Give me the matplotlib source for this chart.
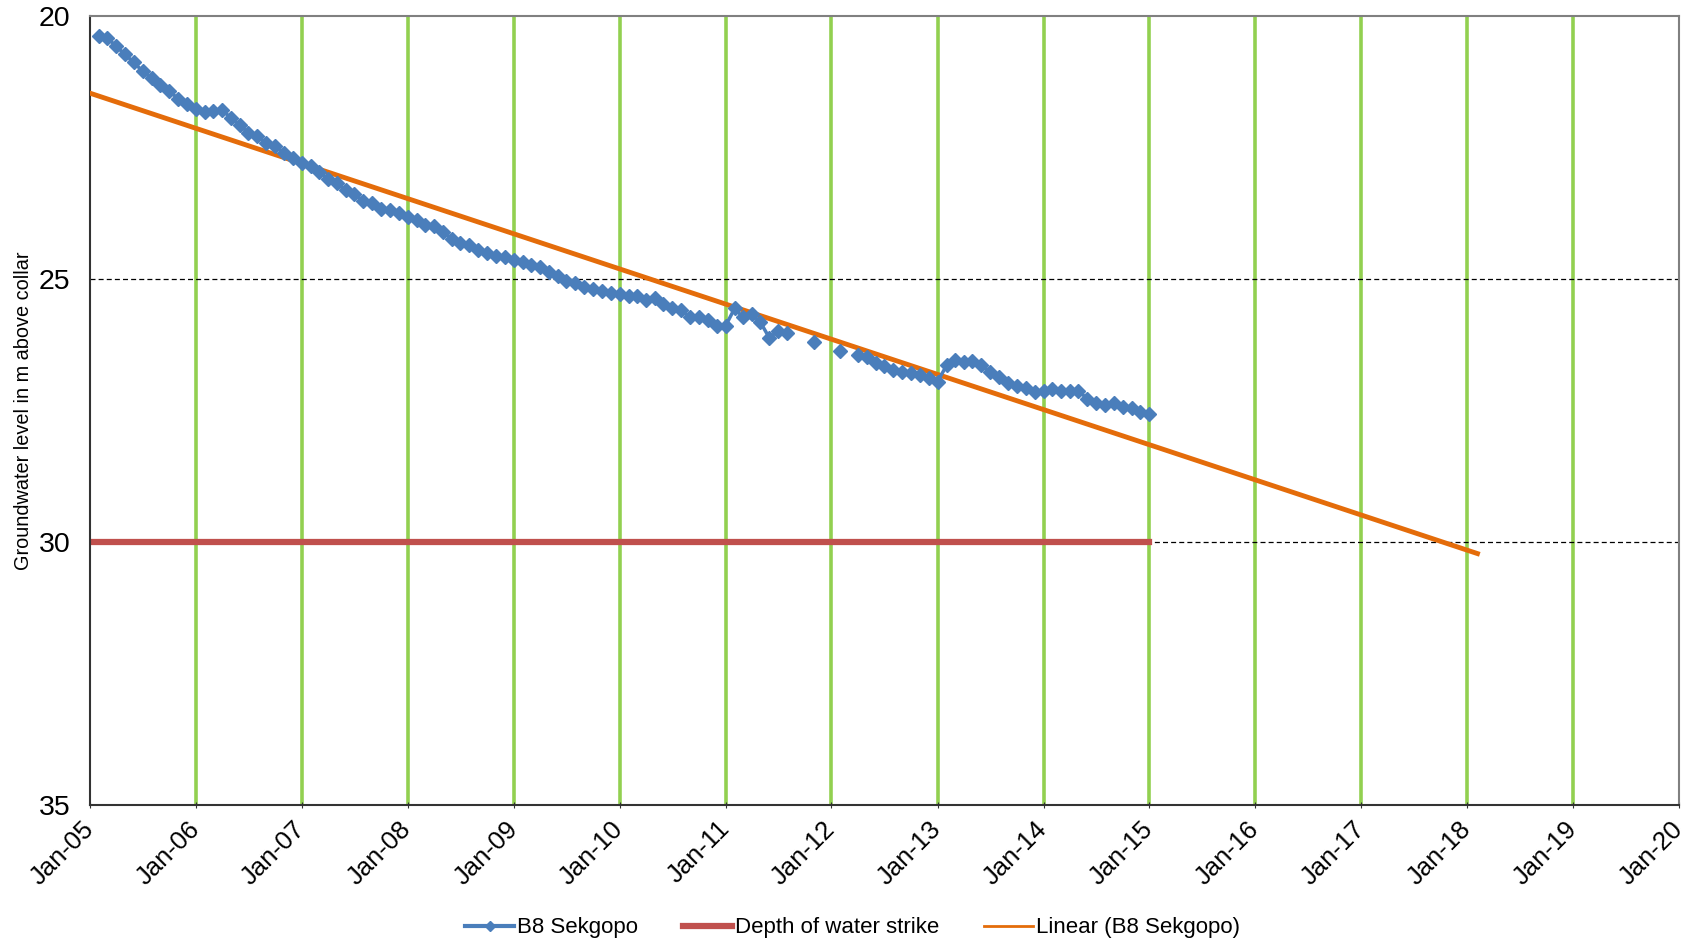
import numpy as np, pandas as pd, matplotlib
matplotlib.use('Agg'); import matplotlib.pyplot as plt
import matplotlib.dates as mdates
from matplotlib.lines import Line2D

plt.rcParams['font.family'] = ['Liberation Sans', 'DejaVu Sans']

# monthly readings from Feb 2005 (NaN = no reading)
first_month = '2005-02-01'
levels = [
 20.38, 20.42, 20.57, 20.73, 20.88, 21.05, 21.18, 21.31, 21.43, 21.57, 21.68,
 21.77, 21.82, 21.81, 21.79, 21.93, 22.07, 22.22, 22.28, 22.42, 22.48, 22.60, 22.69,
 22.80, 22.85, 22.96, 23.09, 23.18, 23.31, 23.39, 23.51, 23.56, 23.66, 23.68, 23.74,
 23.82, 23.88, 23.97, 24.00, 24.10, 24.23, 24.31, 24.35, 24.45, 24.50, 24.56, 24.58,
 24.64, 24.67, 24.73, 24.78, 24.86, 24.94, 25.04, 25.07, 25.15, 25.18, 25.23, 25.27,
 25.29, 25.32, 25.32, 25.40, 25.37, 25.48, 25.55, 25.59, 25.73, 25.73, 25.78, 25.89,
 25.89, 25.56, 25.72, 25.67, 25.82, 26.12, 25.98, 26.02, np.nan, np.nan, 26.19, np.nan,
 np.nan, 26.36, np.nan, 26.44, 26.49, 26.60, 26.65, 26.72, 26.76, 26.78, 26.82, 26.89,
 26.95, 26.64, 26.54, 26.57, 26.55, 26.64, 26.76, 26.87, 26.98, 27.03, 27.08, 27.14,
 27.12, 27.09, 27.12, 27.13, 27.12, 27.28, 27.36, 27.40, 27.36, 27.43, 27.46, 27.52,
 27.57,
]
strike_depth = 30
strike_span = ['2005-01-01', '2015-01-01']
trend_span = ['2005-01-01', '2018-02-05']
year_ticks = list(range(2005, 2021))

dates = pd.date_range(first_month, periods=len(levels), freq='MS')
s = pd.Series(levels, index=dates)

fig = plt.figure(figsize=(16.95, 9.43), dpi=100)
ax = fig.add_axes([0.0531, 0.1463, 0.9375, 0.8367])

# green vertical year gridlines
for yr in year_ticks[1:-1]:
    ax.axvline(pd.Timestamp(f'{yr}-01-01'), color='#92D050', lw=2.6, zorder=1)
for yv in (25, 30):
    ax.axhline(yv, color='black', lw=0.9, ls=(0, (4, 2.5)), zorder=1)

ax.plot(pd.to_datetime(strike_span), [strike_depth]*2, color='#C0504D', lw=4.5, zorder=2)

# Excel-style linear trendline on date serials
ok = s.dropna()
xd = mdates.date2num(ok.index)
k, b = np.polyfit(xd, ok.values, 1)
tx = mdates.date2num(pd.to_datetime(trend_span))
ax.plot(pd.to_datetime(trend_span), k*tx + b, color='#E46C0A', lw=3.5, zorder=3)

ax.plot(s.index, s.values, color='#4A7EBB', lw=2.5, marker='D', ms=7,
        mec='#4A7EBB', mfc='#4A7EBB', zorder=4)

ax.set_xlim(pd.Timestamp('2005-01-01'), pd.Timestamp('2020-01-01'))
ax.set_ylim(35, 20)
ax.set_yticks([20, 25, 30, 35])
ax.tick_params(axis='y', labelsize=20.5, length=0, pad=14)
ticks = [pd.Timestamp(f'{yr}-01-01') for yr in year_ticks]
ax.set_xticks(ticks)
ax.set_xticklabels([t.strftime('%b-%y') for t in ticks], rotation=45, ha='right',
                   va='center', rotation_mode='anchor', fontsize=18.5)
ax.tick_params(axis='x', length=5, direction='inout', pad=12, color='#333333')
for side in ('top', 'right'):
    ax.spines[side].set_color('#808080'); ax.spines[side].set_linewidth(1.5)
for side in ('left', 'bottom'):
    ax.spines[side].set_color('#333333'); ax.spines[side].set_linewidth(1.5)

ax.set_ylabel('Groundwater level in m above collar', fontsize=14.3)
ax.yaxis.set_label_coords(-0.036, 0.5)

handles = [Line2D([], [], color='#4A7EBB', lw=3, marker='D', ms=5),
           Line2D([], [], color='#C0504D', lw=4.5),
           Line2D([], [], color='#E46C0A', lw=2)]
fig.legend(handles, ['B8 Sekgopo', 'Depth of water strike', 'Linear (B8 Sekgopo)'],
           loc='center', bbox_to_anchor=(0.503, 0.016), ncol=3, frameon=False,
           fontsize=16, handlelength=2.2, handletextpad=0.15, columnspacing=2.0)

plt.savefig('out.png', dpi=100)
